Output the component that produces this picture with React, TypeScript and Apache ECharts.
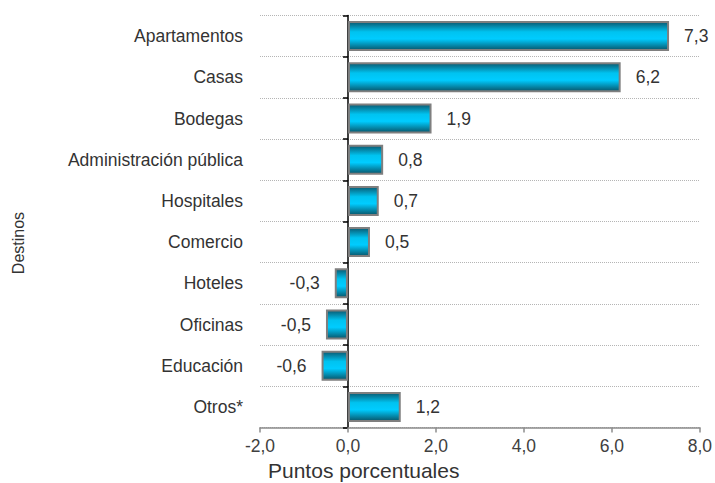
import React, { useEffect, useRef } from "react";
import * as echarts from "echarts";

const categories = [
  "Apartamentos",
  "Casas",
  "Bodegas",
  "Administración pública",
  "Hospitales",
  "Comercio",
  "Hoteles",
  "Oficinas",
  "Educación",
  "Otros*",
];
const values = [7.3, 6.2, 1.9, 0.8, 0.7, 0.5, -0.3, -0.5, -0.6, 1.2];
const xMin = -2;
const xMax = 8;
const xInterval = 2;
const yTitle = "Destinos";
const xTitle = "Puntos porcentuales";

const fmt = (v: number) => v.toFixed(1).replace(".", ",");
const FONT = "'Liberation Sans', Arial, sans-serif";

export default function App() {
  const ref = useRef<HTMLDivElement>(null);
  useEffect(() => {
    if (!ref.current) return;
    const chart = echarts.init(ref.current, null, { renderer: "svg" });
    const barColor = new echarts.graphic.LinearGradient(0, 0, 0, 1, [
      { offset: 0, color: "#095a72" },
      { offset: 0.35, color: "#00c3f0" },
      { offset: 0.6, color: "#00ccff" },
      { offset: 1, color: "#08566b" },
    ]);
    chart.setOption({
      animation: false,
      backgroundColor: "#ffffff",
      textStyle: { fontFamily: FONT },
      grid: { left: 260, right: 13, top: 15.5, bottom: 55.5, containLabel: false },
      xAxis: {
        type: "value",
        min: xMin,
        max: xMax,
        interval: xInterval,
        axisLine: { show: true, onZero: false, lineStyle: { color: "#8c8c8c", width: 1.5 } },
        axisTick: { show: true, length: 5, lineStyle: { color: "#8c8c8c", width: 1.5 } },
        axisLabel: {
          formatter: (v: number) => fmt(v),
          color: "#404040",
          fontSize: 17.5,
          margin: 9,
          fontFamily: FONT,
        },
        splitLine: { show: false },
      },
      yAxis: [
        {
          type: "category",
          data: categories,
          inverse: true,
          axisLine: { show: false, onZero: false },
          axisTick: { show: false },
          axisLabel: { color: "#333333", fontSize: 17.5, margin: 17, fontFamily: FONT },
          splitLine: { show: true, lineStyle: { type: "dotted", color: "#b5b5b5", width: 1 } },
        },
        {
          type: "category",
          data: categories,
          inverse: true,
          position: "left",
          axisLine: { show: true, onZero: true, lineStyle: { color: "#000000", width: 1.5 } },
          axisTick: { show: true, length: 5, lineStyle: { color: "#000000", width: 1.5 } },
          axisLabel: { show: false },
          splitLine: { show: false },
        },
      ],
      series: [
        {
          type: "bar",
          yAxisIndex: 0,
          barWidth: 30,
          data: values.map((v) => ({
            value: v,
            label: { position: v < 0 ? "left" : "right" },
          })),
          itemStyle: { color: barColor, borderColor: "#7f7f7f", borderWidth: 2 },
          label: {
            show: true,
            distance: 15,
            color: "#333333",
            fontSize: 17.5,
            fontFamily: FONT,
            formatter: (p: any) => fmt(p.value),
          },
        },
      ],
      graphic: [
        {
          type: "text",
          x: 18,
          y: 243,
          rotation: Math.PI / 2,
          style: {
            text: yTitle,
            fill: "#333333",
            font: `16px ${FONT}`,
            align: "center",
            verticalAlign: "middle",
          },
        },
        {
          type: "text",
          x: 268,
          y: 470,
          style: {
            text: xTitle,
            fill: "#333333",
            font: `21px ${FONT}`,
            align: "left",
            verticalAlign: "middle",
          },
        },
      ],
    });
    return () => chart.dispose();
  }, []);
  return (
    <div
      ref={ref}
      style={{ position: "fixed", left: 0, top: 0, width: 715, height: 483 }}
    />
  );
}
